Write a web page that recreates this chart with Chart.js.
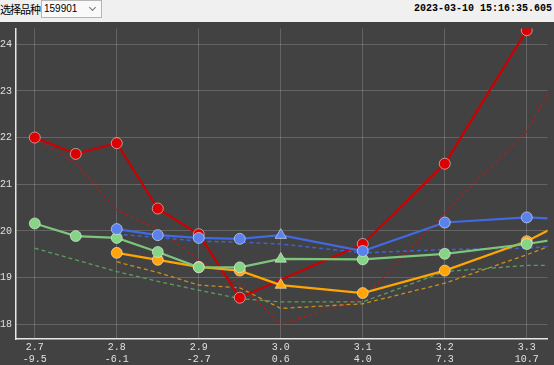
<!DOCTYPE html>
<html>
<head>
    <meta charset="UTF-8">
    <title>159901</title>
    <script src="https://cdn.jsdelivr.net/npm/chart.js"></script>
    <style>
        body { margin: 0; width: 554px; height: 365px; overflow: hidden; background: #424242; }
        .top-bar { position: relative; height: 22px; background: #f0f0f0; }
        .pick-label { position: absolute; left: 0; top: 3px; font: 11px "Noto Sans CJK SC"; letter-spacing: -1px; line-height: 13px; color: #000; }
        .pick-box { position: absolute; left: 41px; top: 0; width: 61px; height: 18px; background: #f9f9f9; border: 1px solid #b5b5b5;
                    font: 10px "Liberation Sans"; line-height: 16px; color: #000; padding-left: 2px; box-sizing: border-box; }
        .pick-box .arrow { position: absolute; right: 6px; top: 4px; width: 4px; height: 4px; border-right: 1px solid #777; border-bottom: 1px solid #777; transform: rotate(45deg); }
        .clock { position: absolute; right: 2px; top: 3px; font: bold 10px "Liberation Mono"; line-height: 12px; color: #000; }
        .chart-box { width: 554px; height: 343px; background: #424242; }
    </style>
</head>
<body>
    <div class="top-bar">
        <span class="pick-label">选择品种</span>
        <div class="pick-box">159901<span class="arrow"></span></div>
        <span class="clock">2023-03-10 15:16:35.605</span>
    </div>
    <div class="chart-box">
        <canvas id="smile-chart" width="554" height="343"></canvas>
    </div>

    <script>
        // 行权价
        const strikes = [2.7, 2.75, 2.8, 2.85, 2.9, 2.95, 3.0, 3.1, 3.2, 3.3, 3.4];
        // x轴刻度和第二行标签
        const xTicks = [2.7, 2.8, 2.9, 3.0, 3.1, 3.2, 3.3];
        const xSubLabels = ['-9.5', '-6.1', '-2.7', '0.6', '4.0', '7.3', '10.7'];

        // 实线 (当前)
        const redNow    = [22.0, 21.65, 21.88, 20.48, 19.93, 18.57, null, 19.72, 21.44, 24.3, null];
        const blueNow   = [null, null, 20.04, 19.91, 19.85, 19.83, 19.91, 19.57, 20.18, 20.29, 20.2];
        const greenNow  = [20.16, 19.89, 19.85, 19.55, 19.22, 19.22, 19.4, 19.39, 19.51, 19.72, 19.99];
        const orangeNow = [null, null, 19.53, 19.38, 19.23, 19.15, 18.84, 18.67, 19.15, 19.78, 20.66];
        // 虚线 (参考)
        const redRef    = [22.0, 21.44, 20.45, 20.04, 19.38, 18.86, 18.0, 18.55, 20.39, 22.13, 25.3];
        const blueRef   = [null, null, 19.93, 19.86, 19.78, 19.76, 19.72, 19.53, 19.6, 19.63, 19.75];
        const greenRef  = [19.63, 19.38, 19.13, 18.92, 18.73, 18.55, 18.48, 18.48, 19.13, 19.26, 19.26];
        const orangeRef = [null, null, 19.34, 19.11, 18.84, 18.78, 18.34, 18.44, 18.88, 19.49, 20.16];

        function toPoints(vals) {
            return strikes.map((x, i) => ({ x: x, y: vals[i] })).filter(p => p.y !== null);
        }

        function solidSet(vals, line, fill, order) {
            return {
                data: toPoints(vals),
                borderColor: line,
                borderWidth: 2.2,
                backgroundColor: fill,
                pointBackgroundColor: fill,
                pointBorderColor: 'rgba(255,255,255,0.5)',
                pointBorderWidth: 1,
                pointRadius: ctx => ctx.raw && ctx.raw.x === 3.0 ? 6.5 : 5.5,
                pointStyle: ctx => ctx.raw && ctx.raw.x === 3.0 ? 'triangle' : 'circle',
                tension: 0,
                order: order
            };
        }

        function dashSet(vals, line, width, dash, order) {
            return {
                data: toPoints(vals),
                borderColor: line,
                borderWidth: width,
                borderDash: dash,
                pointRadius: 0,
                tension: 0,
                order: order
            };
        }

        const ctx = document.getElementById('smile-chart').getContext('2d');
        const chart = new Chart(ctx, {
            type: 'line',
            data: {
                datasets: [
                    solidSet(blueNow, '#4169e1', '#5b82ec', 1),
                    solidSet(greenNow, '#7cc57c', '#86d486', 2),
                    solidSet(orangeNow, '#ffa500', '#ffa50a', 3),
                    solidSet(redNow, '#cc0000', '#dd0000', 4),
                    dashSet(blueRef, '#3d63d2', 1.5, [4, 3], 5),
                    dashSet(greenRef, '#5e9c5e', 1.3, [4, 3], 6),
                    dashSet(orangeRef, '#c88f1e', 1.3, [4, 3], 7),
                    dashSet(redRef, '#b01c1c', 1.3, [3, 3], 8)
                ]
            },
            options: {
                responsive: false,
                animation: false,
                events: [],
                layout: { padding: 0 },
                plugins: {
                    legend: { display: false },
                    tooltip: { enabled: false }
                },
                scales: {
                    x: {
                        type: 'linear',
                        min: 2.6771,
                        max: 3.3253,
                        grid: { color: 'rgba(255,255,255,0.18)', drawTicks: false },
                        border: { color: '#e6e6e6', width: 1.5 },
                        afterBuildTicks: scale => { scale.ticks = xTicks.map(v => ({ value: v })); },
                        afterFit: scale => { scale.height = 26; scale.paddingLeft = 0; scale.paddingRight = 0; },
                        ticks: {
                            color: '#e0e0e0',
                            padding: 3,
                            maxRotation: 0,
                            autoSkip: false,
                            font: { family: 'Liberation Mono', size: 10, lineHeight: 1.15 },
                            callback: function (value) {
                                const i = xTicks.findIndex(v => Math.abs(v - value) < 1e-6);
                                return i < 0 ? '' : [value.toFixed(1), xSubLabels[i]];
                            }
                        }
                    },
                    y: {
                        min: 17.685,
                        max: 24.336,
                        grid: { color: 'rgba(255,255,255,0.18)', drawTicks: false },
                        border: { color: '#e6e6e6', width: 1.5 },
                        afterFit: scale => { scale.width = 16; scale.paddingTop = 0; scale.paddingBottom = 0; },
                        ticks: {
                            stepSize: 1,
                            includeBounds: false,
                            crossAlign: 'far',
                            padding: 0,
                            color: '#e0e0e0',
                            font: { family: 'Liberation Mono', size: 10 }
                        }
                    }
                }
            }
        });
    </script>
</body>
</html>
